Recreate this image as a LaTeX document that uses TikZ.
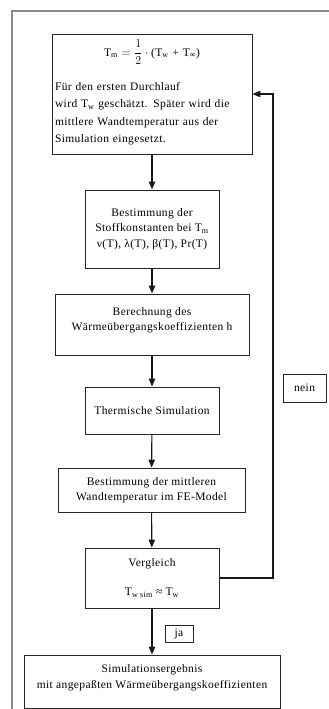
\documentclass[tikz,border=0pt]{standalone}
\usepackage{fontspec}
\setmainfont{Liberation Serif}[LetterSpace=3.5]
\usetikzlibrary{arrows.meta}
\newcommand{\sbs}[1]{\textsubscript{#1}}
\begin{document}
\begin{tikzpicture}[x=1pt,y=-1pt,
  box/.style={draw=black!85,line width=0.9pt,inner sep=2pt,align=center,
    font=\fontsize{11.5}{15.5}\selectfont},
  tagbox/.style={draw=black!85,line width=0.8pt,inner sep=0pt,
    font=\fontsize{11.5}{15.5}\selectfont},
  flow/.style={line width=1.1pt,black!90,-{Triangle[length=8pt,width=6.5pt]}},
  frame/.style={line width=1.6pt,black!45}]
\useasboundingbox (0,0) rectangle (329,709);
\draw[frame] (329,11) -- (12,11) -- (12,712);
\node[box,minimum width=200pt,minimum height=120pt,text width=194pt,align=left] (b1) at (152,94)
  {\mbox{}\\[-3.5pt]
   \makebox[194pt]{T\sbs{m} $=\displaystyle\frac{1}{2}\cdot{}$(T\sbs{w} + T\sbs{∞})}\\[17pt]
   Für den ersten Durchlauf\\[2pt]
   wird T\sbs{w} geschätzt. Später wird die\\[2pt]
   mittlere Wandtemperatur aus der\\[2pt]
   Simulation eingesetzt.};
\node[box,minimum width=134pt,minimum height=78pt] (b2) at (152,229)
  {Bestimmung der\\ Stoffkonstanten bei T\sbs{m}\\ ν(T), λ(T), β(T), Pr(T)};
\node[box,minimum width=194pt,minimum height=61pt] (b3) at (152,324.5)
  {Berechnung des\\ Wärmeübergangskoeffizienten h\\[-5pt]\mbox{}};
\node[box,minimum width=134pt,minimum height=47pt] (b4) at (152,410.5)
  {Thermische Simulation};
\node[box,minimum width=187pt,minimum height=44pt] (b5) at (151.5,490)
  {Bestimmung der mittleren\\ Wandtemperatur im FE-Model};
\node[box,minimum width=134pt,minimum height=60pt] (b6) at (152,578)
  {Vergleich\\[14pt] T\sbs{w sim} ≈ T\sbs{w}};
\node[box,minimum width=256pt,minimum height=53pt] (b7) at (152,681.5)
  {Simulationsergebnis\\ mit angepaßten Wärmeübergangskoeffizienten\\[-6pt]\mbox{}};
\node[tagbox,minimum width=43pt,minimum height=28pt] (nein) at (304.5,388) {nein};
\node[tagbox,minimum width=28pt,minimum height=17pt] (ja) at (179,633.5) {ja};
\coordinate (fbx) at (273,0);
\draw[flow] (b1) -- (b2);
\draw[flow] (b2) -- (b3);
\draw[flow] (b3) -- (b4);
\draw[flow] (b4) -- (b5);
\draw[flow] (b5) -- (b6);
\draw[flow] (b6) -- (b7);
\draw[flow] (b6.east) -- (b6.east -| fbx) -- (b1.east -| fbx) -- (b1.east);
\end{tikzpicture}
\end{document}
